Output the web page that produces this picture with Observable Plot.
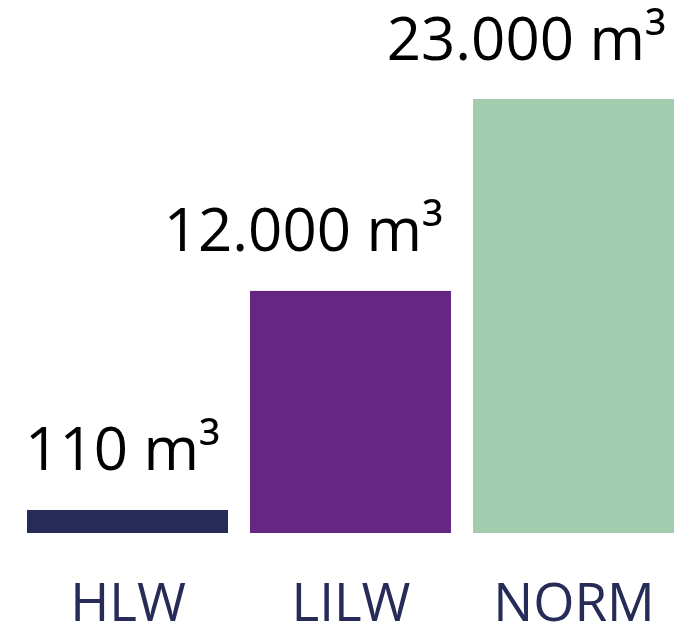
<!DOCTYPE html>
<html>
<head>
<meta charset="utf-8">
<script src="https://cdn.jsdelivr.net/npm/d3@7"></script>
<script src="https://cdn.jsdelivr.net/npm/@observablehq/plot@0.6"></script>
<style>
  html, body { margin: 0; padding: 0; background: #fff; }
  #chart svg { display: block; overflow: visible; }
</style>
</head>
<body>
<div id="chart"></div>
<script>
// Categories and values
const categories = ["HLW", "LILW", "NORM"];
const volumes = [110, 12000, 23000];            // m³
const valueLabels = ["110 m³", "12.000 m³", "23.000 m³"];
// Bar heights as drawn in the (schematic) reference, in m³-equivalent units
const barHeights = [1220, 12830, 23000];
const colors = ["#262b58", "#662782", "#a3cbae"];

const data = categories.map((c, i) => ({
  category: c,
  volume: volumes[i],
  label: valueLabels[i],
  height: barHeights[i],
  color: colors[i]
}));

const navy = "#262b58";

const chart = Plot.plot({
  width: 690,
  height: 628,
  marginTop: 0,
  marginLeft: 0,
  marginRight: 0,
  marginBottom: 95,
  style: { fontFamily: "'Open Sans', sans-serif", background: "#fff" },
  x: { domain: categories, range: [26, 676], paddingInner: 0.0982, paddingOuter: 0, label: null },
  y: { domain: [0, 23000], range: [533, 99], axis: null },
  marks: [
    Plot.barY(data, { x: "category", y: "height", fill: "color" }),
    Plot.text(data, {
      x: "category", y: "height", text: "label",
      textAnchor: "end", lineAnchor: "bottom", dx: 92, dy: -40,
      fontSize: 60, fill: "#000"
    }),
    Plot.axisX({
      tickSize: 0, tickPadding: 50, fontSize: 53, fill: navy, label: null
    })
  ]
});

document.getElementById("chart").appendChild(chart);
</script>
</body>
</html>
